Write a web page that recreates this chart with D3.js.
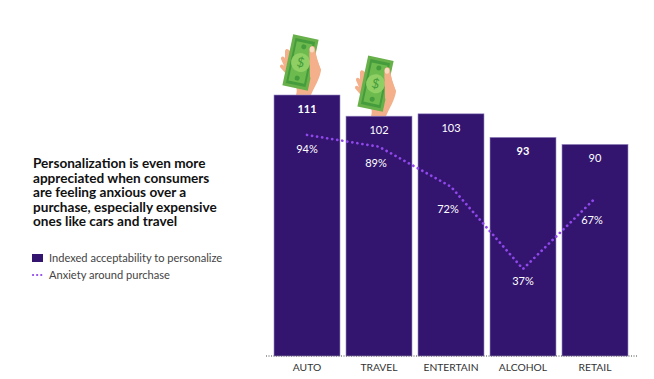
<!DOCTYPE html>
<html>
<head>
<meta charset="utf-8">
<script src="https://cdn.jsdelivr.net/npm/d3@7"></script>
<style>
    body { margin: 0; background: #fff; }
    svg { display: block; }
    text { font-family: Lato, sans-serif; }
</style>
</head>
<body>
<div id="chart"></div>
<script>
// data
const categories = ["AUTO", "TRAVEL", "ENTERTAIN", "ALCOHOL", "RETAIL"];
const acceptability = [111, 102, 103, 93, 90];
const anxiety = [94, 89, 72, 37, 67];
const titleLines = [
    "Personalization is even more",
    "appreciated when consumers",
    "are feeling anxious over a",
    "purchase, especially expensive",
    "ones like cars and travel"
];
const legendLabels = ["Indexed acceptability to personalize", "Anxiety around purchase"];
const moneyCategories = ["AUTO", "TRAVEL"];

const purple = "#33156f";
const dotted = "#9048ec";

const svg = d3.select("#chart").append("svg")
    .attr("width", 654)
    .attr("height", 379);

// scales
const x = d3.scaleBand().domain(categories).range([274, 628]).paddingInner(6 / 72).paddingOuter(0);
const y = d3.scaleLinear().domain([0, 111]).range([356, 95]);

// money in hand, drawn relative to the top left of its bar
const money = svg.selectAll(".money")
    .data(moneyCategories)
    .enter()
    .append("g")
    .attr("class", "money")
    .attr("transform", (d, i) => `translate(${x(d) + i * 3}, ${y(acceptability[categories.indexOf(d)])})`);

money.append("path")
    .attr("fill", "#f4b08a")
    .attr("d", "M22,0 C24,-6 22,-10 18,-14 L6,-28 C6,-31 8,-31 10,-29 L7,-36 C7,-39 9,-39 11,-37 L11,-44 C12,-47 14,-46 16,-44 L40,-46 C42,-40 44,-32 47,-25 C46,-16 40,-8 37,0 Z");

const bill = money.append("g")
    .attr("transform", "translate(26.5,-32.5) rotate(12)");
bill.append("rect").attr("x", -13).attr("y", -26).attr("width", 26).attr("height", 52).attr("fill", "#68b04a");
bill.append("rect").attr("x", -10).attr("y", -23).attr("width", 20).attr("height", 46).attr("fill", "#459c3c");
bill.append("rect").attr("x", -8).attr("y", -20).attr("width", 16).attr("height", 40).attr("fill", "#6dbb4f");
bill.append("circle").attr("r", 9.5).attr("fill", "#8fcf63");
bill.append("circle").attr("cy", -16).attr("r", 2.5).attr("fill", "#459c3c");
bill.append("circle").attr("cy", 16).attr("r", 2.5).attr("fill", "#459c3c");
bill.append("text")
    .attr("text-anchor", "middle")
    .attr("y", 4.5)
    .attr("font-size", 13)
    .attr("fill", "#459c3c")
    .text("$");

money.append("path")
    .attr("fill", "#f4b08a")
    .attr("d", "M36,-18 C36,-28 35,-38 35.5,-46 C36,-50 41,-50 41,-46 C42,-40 44,-32 47,-25 L40,-12 Z");
money.append("ellipse")
    .attr("cx", 38)
    .attr("cy", -45.5)
    .attr("rx", 2.3)
    .attr("ry", 3)
    .attr("fill", "#fbd9c2");

// bars
svg.selectAll(".bar")
    .data(categories)
    .enter()
    .append("rect")
    .attr("class", "bar")
    .attr("x", d => x(d))
    .attr("y", (d, i) => y(acceptability[i]))
    .attr("width", x.bandwidth())
    .attr("height", (d, i) => y(0) - y(acceptability[i]))
    .attr("fill", purple)
    .attr("stroke", "#9c8cc4")
    .attr("stroke-width", 0.6);

// bar values
svg.selectAll(".bar-value")
    .data(categories)
    .enter()
    .append("text")
    .attr("class", "bar-value")
    .attr("x", d => x(d) + x.bandwidth() / 2)
    .attr("y", (d, i) => y(acceptability[i]) + 18)
    .attr("text-anchor", "middle")
    .attr("font-size", 11)
    .attr("font-weight", (d, i) => (i === 0 || i === 3) ? 700 : 400)
    .attr("fill", "#fff")
    .text((d, i) => acceptability[i]);

// anxiety line
const line = d3.line()
    .x((d, i) => x(categories[i]) + x.bandwidth() / 2)
    .y(d => y(d));

svg.append("path")
    .datum(anxiety)
    .attr("d", line)
    .attr("fill", "none")
    .attr("stroke", dotted)
    .attr("stroke-width", 2.7)
    .attr("stroke-linecap", "round")
    .attr("stroke-dasharray", "0.1 5");

// anxiety labels, offsets picked by eye
const labelOffset = [18, 20, 26, 16, 26];
const labelShift = [0, -3, -3, 0, -3];
svg.selectAll(".line-value")
    .data(anxiety)
    .enter()
    .append("text")
    .attr("class", "line-value")
    .attr("x", (d, i) => x(categories[i]) + x.bandwidth() / 2 + labelShift[i])
    .attr("y", (d, i) => y(d) + labelOffset[i])
    .attr("text-anchor", "middle")
    .attr("font-size", 11)
    .attr("fill", "#fff")
    .text(d => d + "%");

// axis
const axis = svg.append("g")
    .attr("transform", `translate(0, ${y(0)})`)
    .call(d3.axisBottom(x).tickSize(0).tickPadding(8));
axis.select(".domain").remove();
axis.selectAll("text")
    .attr("font-size", 10.3)
    .attr("fill", "#333")
    .style("font-family", "Lato, sans-serif");

svg.append("line")
    .attr("x1", 266)
    .attr("x2", 638)
    .attr("y1", y(0))
    .attr("y2", y(0))
    .attr("stroke", "#444")
    .attr("stroke-width", 1)
    .attr("stroke-dasharray", "1 1.5");

// title
svg.selectAll(".title-line")
    .data(titleLines)
    .enter()
    .append("text")
    .attr("class", "title-line")
    .attr("x", 33)
    .attr("y", (d, i) => 168 + i * 14.6)
    .attr("font-size", 13.6)
    .attr("font-weight", 700)
    .attr("fill", "#111")
    .text(d => d);

// legend
svg.append("rect")
    .attr("x", 32)
    .attr("y", 254)
    .attr("width", 11)
    .attr("height", 8)
    .attr("fill", purple);
svg.append("line")
    .attr("x1", 33)
    .attr("x2", 44)
    .attr("y1", 275)
    .attr("y2", 275)
    .attr("stroke", dotted)
    .attr("stroke-width", 2.2)
    .attr("stroke-linecap", "round")
    .attr("stroke-dasharray", "0.1 4");
svg.selectAll(".legend-label")
    .data(legendLabels)
    .enter()
    .append("text")
    .attr("class", "legend-label")
    .attr("x", 49)
    .attr("y", (d, i) => 262 + i * 17)
    .attr("font-size", 11.1)
    .attr("fill", "#444")
    .text(d => d);
</script>
</body>
</html>
